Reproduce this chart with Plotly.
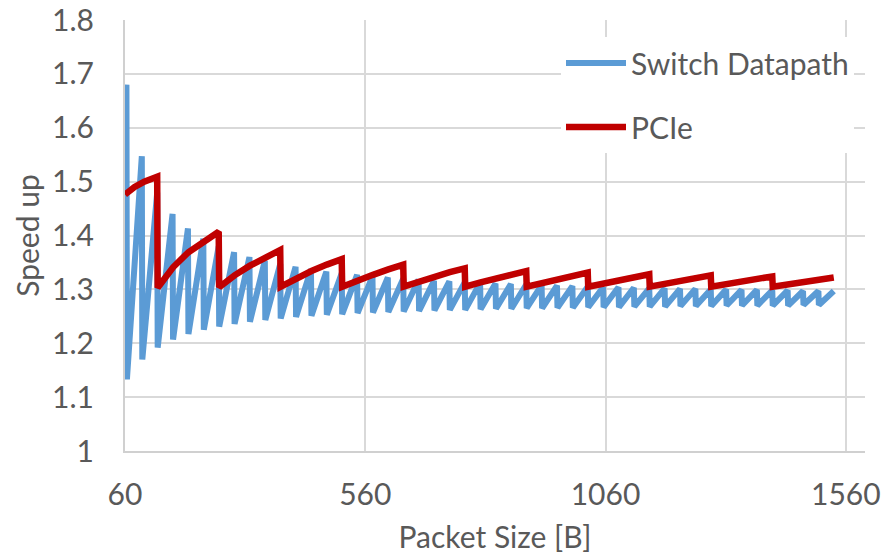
import plotly.graph_objects as go

# ---- data ----
# Switch Datapath: sawtooth, low point at start of each 32-byte step, high point at its end
sw_low_x = [60, 64, 96, 128, 160, 192, 224, 256, 288, 320, 352, 384, 416, 448, 480, 512,
            544, 576, 608, 640, 672, 704, 736, 768, 800, 832, 864, 896, 928, 960, 992,
            1024, 1056, 1088, 1120, 1152, 1184, 1216, 1248, 1280, 1312, 1344, 1376, 1408,
            1440, 1472, 1504]
sw_low_y = [1.620, 1.133, 1.170, 1.192, 1.207, 1.217, 1.225, 1.231, 1.236, 1.240, 1.243,
            1.246, 1.249, 1.251, 1.253, 1.254, 1.256, 1.257, 1.258, 1.259, 1.260, 1.261,
            1.262, 1.262, 1.263, 1.264, 1.264, 1.265, 1.265, 1.266, 1.266, 1.267, 1.267,
            1.267, 1.268, 1.268, 1.268, 1.269, 1.269, 1.269, 1.270, 1.270, 1.270, 1.270,
            1.270, 1.271, 1.271]
sw_high_x = [63, 95, 127, 159, 191, 223, 255, 287, 319, 351, 383, 415, 447, 479, 511, 543,
             575, 607, 639, 671, 703, 735, 767, 799, 831, 863, 895, 927, 959, 991, 1023,
             1055, 1087, 1119, 1151, 1183, 1215, 1247, 1279, 1311, 1343, 1375, 1407, 1439,
             1471, 1503, 1535]
sw_high_y = [1.680, 1.547, 1.480, 1.440, 1.413, 1.394, 1.380, 1.369, 1.360, 1.353, 1.347,
             1.342, 1.337, 1.333, 1.330, 1.327, 1.324, 1.322, 1.320, 1.318, 1.316, 1.315,
             1.313, 1.312, 1.311, 1.310, 1.309, 1.308, 1.307, 1.306, 1.305, 1.304, 1.304,
             1.303, 1.302, 1.302, 1.301, 1.301, 1.300, 1.300, 1.299, 1.299, 1.298, 1.298,
             1.297, 1.297, 1.297]

# PCIe: sawtooth with 128-byte steps
pcie_x = [60, 80, 100, 127,
          128, 160, 192, 224, 255,
          256, 288, 320, 352, 383,
          384, 416, 448, 480, 511,
          512, 544, 576, 608, 639,
          640, 672, 704, 736, 767,
          768, 800, 832, 864, 895,
          896, 928, 960, 992, 1023,
          1024, 1056, 1088, 1120, 1151,
          1152, 1184, 1216, 1248, 1279,
          1280, 1312, 1344, 1376, 1407,
          1408, 1440, 1472, 1504, 1535]
pcie_y = [1.476, 1.490, 1.500, 1.509,
          1.303, 1.341, 1.369, 1.390, 1.407,
          1.304, 1.326, 1.344, 1.360, 1.373,
          1.305, 1.320, 1.334, 1.346, 1.356,
          1.305, 1.317, 1.327, 1.337, 1.346,
          1.305, 1.315, 1.323, 1.332, 1.339,
          1.305, 1.313, 1.321, 1.328, 1.334,
          1.305, 1.312, 1.319, 1.325, 1.331,
          1.305, 1.311, 1.317, 1.323, 1.328,
          1.305, 1.311, 1.316, 1.321, 1.326,
          1.305, 1.310, 1.315, 1.319, 1.324,
          1.305, 1.310, 1.314, 1.318, 1.322]

x_ticks = [60, 560, 1060, 1560]
y_ticks = [1.0, 1.1, 1.2, 1.3, 1.4, 1.5, 1.6, 1.7, 1.8]
y_tick_text = ["1", "1.1", "1.2", "1.3", "1.4", "1.5", "1.6", "1.7", "1.8"]

# interleave low/high points of each step
sw_x, sw_y = [], []
for lx, ly, hx, hy in zip(sw_low_x, sw_low_y, sw_high_x, sw_high_y):
    sw_x += [lx, hx]
    sw_y += [ly, hy]

FONT = "Lato"
GREY = "#595959"
GRID = "#D9D9D9"

fig = go.Figure()
fig.add_trace(go.Scatter(x=sw_x, y=sw_y, mode="lines", name="Switch Datapath",
                         legendgroup="a",
                         line=dict(color="#5B9BD5", width=6)))
fig.add_trace(go.Scatter(x=pcie_x, y=pcie_y, mode="lines", name="PCIe",
                         legendgroup="b",
                         line=dict(color="#C00000", width=6.5)))

fig.update_layout(
    width=891, height=554,
    margin=dict(l=125, r=26, t=20, b=103),
    paper_bgcolor="white", plot_bgcolor="white",
    font=dict(family=FONT, size=30, color=GREY),
    showlegend=True,
    legend=dict(x=(561 - 125) / 740, y=(450.7 - 37) / 430.7,
                xanchor="left", yanchor="top",
                bgcolor="white", borderwidth=0, itemwidth=60,
                font=dict(family=FONT, size=30, color=GREY),
                tracegroupgap=22, traceorder="grouped"),
    xaxis=dict(range=[60, 1600], tickvals=x_ticks, ticktext=[str(v) for v in x_ticks],
               showgrid=True, gridcolor=GRID, gridwidth=2,
               showline=True, linecolor="#D0D0D0", linewidth=2,
               zeroline=False, ticks="", ticklabelstandoff=16, automargin=False,
               tickfont=dict(family=FONT, size=30, color=GREY),
               title=dict(text="Packet Size [B]", standoff=20,
                          font=dict(family=FONT, size=30, color=GREY))),
    yaxis=dict(range=[1.0, 1.8], tickvals=y_ticks, ticktext=y_tick_text,
               showgrid=True, gridcolor=GRID, gridwidth=2,
               showline=True, linecolor="#D0D0D0", linewidth=2,
               zeroline=False, ticks="", ticklabelstandoff=23, automargin=False,
               tickfont=dict(family=FONT, size=30, color=GREY),
               title=dict(text="Speed up", standoff=4,
                          font=dict(family=FONT, size=30, color=GREY))),
)

fig.write_html("out.html",
               config={"displayModeBar": False},
               post_script="document.body.style.margin='0';document.body.style.overflow='hidden';")
